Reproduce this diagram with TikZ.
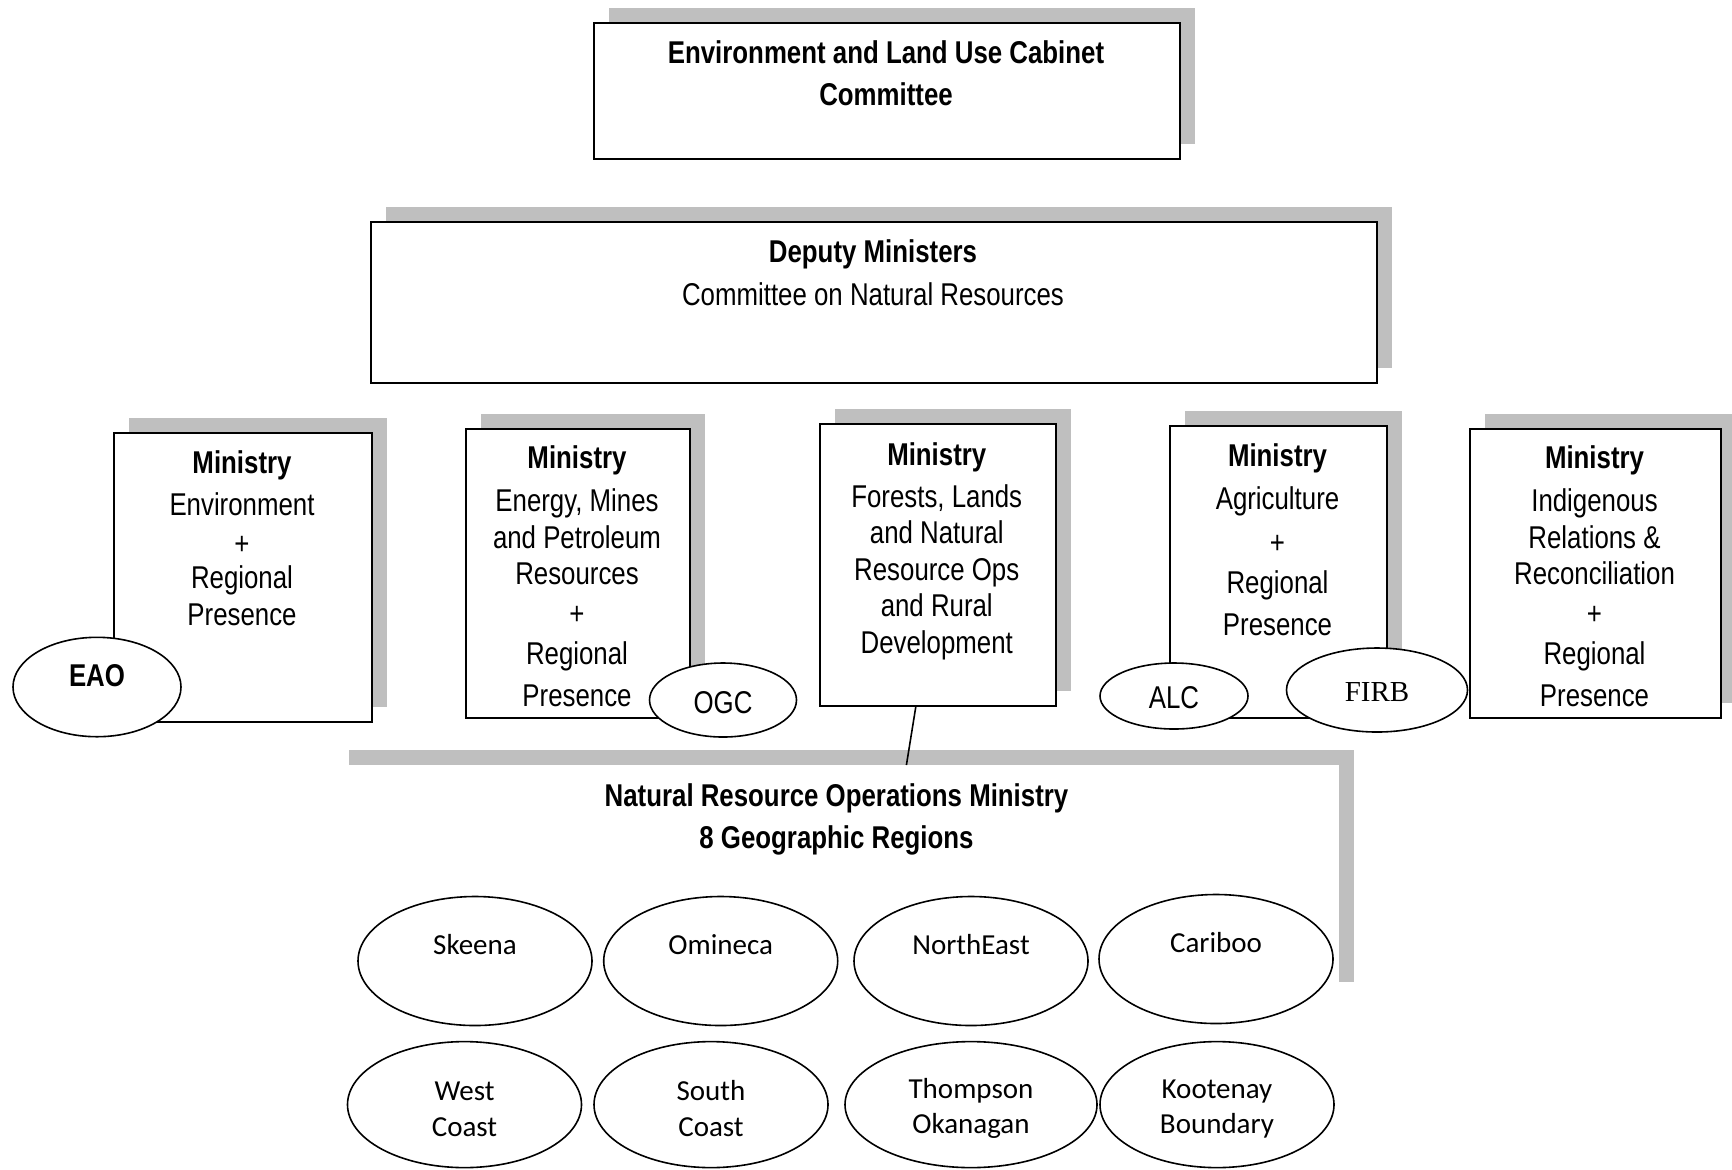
\documentclass[tikz,border=0pt]{standalone}
\usepackage{fontspec}
\setmainfont{Liberation Sans}
\newfontfamily\narrowfont[FakeStretch=0.82]{Liberation Sans}
\newfontfamily\calfont{Carlito}
\newfontfamily\serffont{Liberation Serif}
\usetikzlibrary{shapes.geometric,shadows,calc}
\definecolor{shadowgray}{RGB}{191,191,191}
\newcommand{\topstrut}{\rule{0pt}{14pt}}
\begin{document}
\begin{tikzpicture}[x=0.5pt,y=-0.5pt,
  shadowed/.style={drop shadow={shadow xshift=7.5pt,shadow yshift=7.5pt,fill=shadowgray,opacity=1}},
  box/.style={draw=black,fill=white,line width=1pt,rectangle,inner sep=0pt,anchor=north west,shadowed},
  plainbox/.style={fill=white,rectangle,inner sep=0pt,anchor=north west,shadowed},
  mtext/.style={anchor=north,align=center,inner sep=0pt,font=\narrowfont\fontsize{15.75}{18.25}\selectfont},
  mbold/.style={anchor=north,align=center,inner sep=0pt,font=\narrowfont\bfseries\fontsize{15.75}{18.25}\selectfont},
  oval/.style={draw=black,fill=white,ellipse,line width=0.8pt,inner sep=0pt},
  ovtext/.style={font=\narrowfont\fontsize{15.75}{18}\selectfont},
  region/.style={oval,font=\calfont\fontsize{14.5}{17.7}\selectfont,align=center,minimum width=117pt,minimum height=64.5pt},
  upper/.style={text height=10pt,text depth=17pt},
  lower/.style={minimum height=63pt},
  link/.style={draw=black,line width=0.8pt}
]
\useasboundingbox (0,0) rectangle (1732,1169);

% top level
\node[box,minimum width=293pt,minimum height=68pt] (cab) at (593,22) {};
\node[mbold] (cabT) at (886,40.7) {Environment and Land Use Cabinet\\[2.75pt]Committee};

\node[box,minimum width=503pt,minimum height=80.5pt] (dm) at (370,221) {};
\node[mtext] (dmT) at (873,239.7) {\textbf{Deputy Ministers}\\[3.25pt]Committee on Natural Resources};

% ministries
\node[box,minimum width=129pt,minimum height=144.5pt] (env) at (113,432) {};
\node[mtext] (envT) at (242,450.5) {\textbf{Ministry}\\[2.75pt]Environment\\[1.25pt]+\\[-1.25pt]Regional\\Presence};

\node[box,minimum width=112pt,minimum height=144.75pt] (energy) at (465,427.5) {};
\node[mtext] (energyT) at (577,445) {\textbf{Ministry}\\[3.25pt]Energy, Mines\\[0.25pt]and Petroleum\\Resources\\[1.75pt]+\\[1.75pt]Regional\\[2.5pt]Presence};

\node[box,minimum width=118.25pt,minimum height=141pt] (forests) at (818.5,423) {};
\node[mtext] (forestsT) at (936.75,442) {\textbf{Ministry}\\[2.75pt]Forests, Lands\\and Natural\\Resource Ops\\and Rural\\Development};

\node[box,minimum width=108.5pt,minimum height=146pt] (agri) at (1169,425) {};
\node[mtext] (agriT) at (1277.5,443.5) {\textbf{Ministry}\\[3.25pt]Agriculture\\[3.75pt]+\\[1.75pt]Regional\\[2.5pt]Presence};

\node[box,minimum width=125.5pt,minimum height=144.75pt] (indig) at (1469,427.5) {};
\node[mtext] (indigT) at (1594.5,445) {\textbf{Ministry}\\[3.25pt]Indigenous\\[0.25pt]Relations \&\\Reconciliation\\[1.75pt]+\\[1.75pt]Regional\\[2.5pt]Presence};

% agencies
\node[oval,minimum width=84pt,minimum height=49.7pt,font=\narrowfont\bfseries\fontsize{15.75}{18}\selectfont,text height=11.3pt,text depth=12pt] (eao) at (97,687) {EAO};
\node[oval,ovtext,minimum width=73.5pt,minimum height=37pt,text height=13.5pt,text depth=0pt] (ogc) at (723,700) {OGC};
\node[oval,ovtext,minimum width=74pt,minimum height=33pt,text height=12.3pt,text depth=0pt] (alc) at (1174,696) {ALC};
\node[oval,minimum width=90.5pt,minimum height=42pt,font=\serffont\fontsize{14.5}{17}\selectfont,text height=11.8pt,text depth=0pt] (firb) at (1377,690) {FIRB};

% natural resource operations
\node[plainbox,minimum width=502.5pt,minimum height=116pt] (nro) at (334,765) {};
\node[mbold] (nroT) at (836.5,783.7) {Natural Resource Operations Ministry\\[2.75pt]8 Geographic Regions};

\node[region,upper] (skeena) at (475,961) {Skeena};
\node[region,upper] (omineca) at (720.7,961) {Omineca};
\node[region,upper] (northeast) at (971,961) {NorthEast};
\node[region,upper] (cariboo) at (1216,959) {Cariboo};
\node[region,lower] (west) at (464.5,1104.6) {\topstrut West\\Coast};
\node[region,lower] (south) at (711,1104.6) {\topstrut South\\Coast};
\node[region,lower,minimum width=126pt] (thompson) at (971,1104.6) {\topstrut Thompson\\Okanagan};
\node[region,lower] (kootenay) at (1217,1104.6) {\topstrut Kootenay\\Boundary};

\draw[link] ([xshift=-11pt]forests.south) -- ([xshift=34.75pt]nro.north);
\end{tikzpicture}
\end{document}
